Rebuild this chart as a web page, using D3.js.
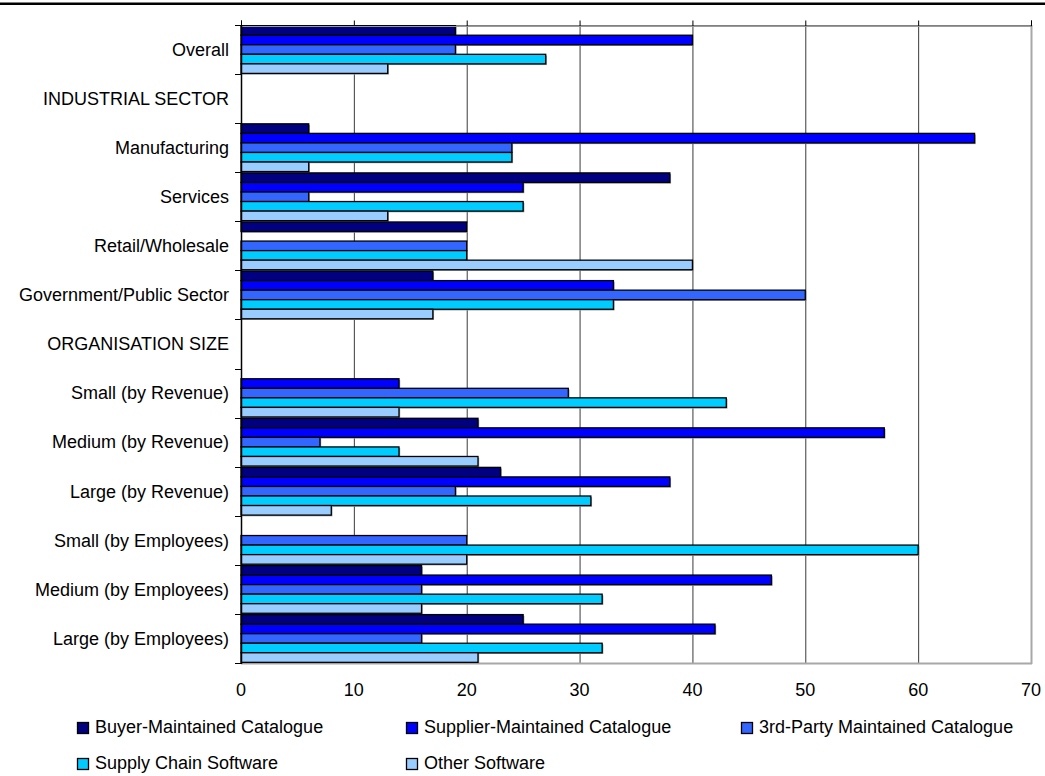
<!DOCTYPE html>
<html>
<head>
<meta charset="utf-8">
<script src="https://cdn.jsdelivr.net/npm/d3@7"></script>
<style>
  html, body { margin: 0; padding: 0; background: #fff; }
  svg { display: block; font-family: "Liberation Sans", Arial, sans-serif; }
</style>
</head>
<body>
<svg id="chart" width="1045" height="776"></svg>
<script>
// Catalogue / software approach by sector and organisation size (%)
const categories = [
  "Overall", "INDUSTRIAL SECTOR", "Manufacturing", "Services", "Retail/Wholesale",
  "Government/Public Sector", "ORGANISATION SIZE", "Small (by Revenue)",
  "Medium (by Revenue)", "Large (by Revenue)", "Small (by Employees)",
  "Medium (by Employees)", "Large (by Employees)"
];
const buyerMaintained    = [19, null,  6, 38, 20, 17, null, null, 21, 23, null, 16, 25];
const supplierMaintained = [40, null, 65, 25, null, 33, null, 14, 57, 38, null, 47, 42];
const thirdPartyCatalog  = [19, null, 24,  6, 20, 50, null, 29,  7, 19, 20, 16, 16];
const supplyChainSoft    = [27, null, 24, 25, 20, 33, null, 43, 14, 31, 60, 32, 32];
const otherSoftware      = [13, null,  6, 13, 40, 17, null, 14, 21,  8, 20, 16, 21];
const seriesNames = [
  "Buyer-Maintained Catalogue", "Supplier-Maintained Catalogue",
  "3rd-Party Maintained Catalogue", "Supply Chain Software", "Other Software"
];
const seriesColors = ["#000080", "#0000ff", "#3366ff", "#00ccff", "#99ccff"];
const xTicks = [0, 10, 20, 30, 40, 50, 60, 70];

const seriesValues = [buyerMaintained, supplierMaintained, thirdPartyCatalog, supplyChainSoft, otherSoftware];

const svg = d3.select("#chart");
const plot = { left: 241, right: 1031, top: 25, bottom: 663 };

// rule across the top of the page
svg.append("rect").attr("x", 0).attr("y", 2.5).attr("width", 1045).attr("height", 2.5).attr("fill", "#000");

const x = d3.scaleLinear().domain([0, 70]).range([plot.left, plot.right]);
const y = d3.scaleBand().domain(categories).range([plot.top, plot.bottom]).padding(0);
const ySub = d3.scaleBand().domain(d3.range(seriesNames.length))
  .range([0, y.bandwidth()]).paddingInner(0).paddingOuter(0.07);

// vertical gridlines
svg.append("g")
  .selectAll("line")
  .data(xTicks.filter(t => t > 0 && t < 70))
  .join("line")
  .attr("x1", d => x(d) + 0.5).attr("x2", d => x(d) + 0.5)
  .attr("y1", plot.top).attr("y2", plot.bottom)
  .attr("stroke", "#3a3a3a").attr("stroke-width", 1);

// plot frame: right and bottom edges in grey
svg.append("line").attr("x1", plot.right + 0.5).attr("x2", plot.right + 0.5)
  .attr("y1", plot.top).attr("y2", plot.bottom + 1)
  .attr("stroke", "#a8a8a8").attr("stroke-width", 2);
svg.append("line").attr("x1", plot.left).attr("x2", plot.right + 1)
  .attr("y1", plot.bottom + 0.5).attr("y2", plot.bottom + 0.5)
  .attr("stroke", "#a8a8a8").attr("stroke-width", 2);

// bars
const rows = [];
categories.forEach((c, i) => {
  seriesValues.forEach((vals, s) => {
    if (vals[i] != null) rows.push({ cat: c, s, v: vals[i] });
  });
});

const barG = svg.append("g");
// soft shadow under each bar
barG.selectAll("rect.shadow")
  .data(rows)
  .join("rect")
  .attr("class", "shadow")
  .attr("x", x(0) + 1.2)
  .attr("y", d => y(d.cat) + ySub(d.s) + 1.2)
  .attr("width", d => x(d.v) - x(0))
  .attr("height", ySub.bandwidth())
  .attr("fill", "#9a9a9a");
barG.selectAll("rect.bar")
  .data(rows)
  .join("rect")
  .attr("class", "bar")
  .attr("x", x(0))
  .attr("y", d => y(d.cat) + ySub(d.s))
  .attr("width", d => x(d.v) - x(0))
  .attr("height", ySub.bandwidth())
  .attr("fill", d => seriesColors[d.s])
  .attr("stroke", "#000")
  .attr("stroke-width", 1.3);

// value axis line along the top with outward ticks
const topAxis = svg.append("g")
  .attr("transform", `translate(0,${plot.top + 0.5})`)
  .call(d3.axisTop(x).tickValues(xTicks).tickSize(5).tickFormat(""));
topAxis.select(".domain").attr("stroke", "#000").attr("stroke-width", 1);
topAxis.selectAll(".tick line").attr("stroke", "#000");
svg.append("line").attr("x1", plot.left).attr("x2", plot.right)
  .attr("y1", plot.top + 1.5).attr("y2", plot.top + 1.5)
  .attr("stroke", "#9a9a9a").attr("stroke-width", 1);

// value labels below the plot
svg.append("g")
  .selectAll("text")
  .data(xTicks)
  .join("text")
  .attr("x", d => x(d))
  .attr("y", 696)
  .attr("text-anchor", "middle")
  .attr("font-size", 18)
  .attr("fill", "#000")
  .text(d => d);

// category axis on the left
const boundaries = categories.map(c => y(c)).concat([plot.bottom]);
svg.append("line").attr("x1", plot.left + 0.5).attr("x2", plot.left + 0.5)
  .attr("y1", plot.top).attr("y2", plot.bottom + 1)
  .attr("stroke", "#000").attr("stroke-width", 1.5);
svg.append("g")
  .selectAll("line")
  .data(boundaries)
  .join("line")
  .attr("x1", plot.left - 6).attr("x2", plot.left)
  .attr("y1", d => Math.round(d) + 0.5).attr("y2", d => Math.round(d) + 0.5)
  .attr("stroke", "#000").attr("stroke-width", 1);
svg.append("g")
  .selectAll("text")
  .data(categories)
  .join("text")
  .attr("x", 229)
  .attr("y", d => y(d) + y.bandwidth() / 2)
  .attr("dy", "0.35em")
  .attr("text-anchor", "end")
  .attr("font-size", 18)
  .attr("fill", "#000")
  .text(d => d);

// legend: three columns, two rows
const legendCols = [77, 406, 741];
const legendRows = [733, 769];
const legend = svg.append("g")
  .selectAll("g")
  .data(seriesNames)
  .join("g")
  .attr("transform", (d, i) => `translate(${legendCols[i % 3]},${legendRows[Math.floor(i / 3)]})`);
legend.append("rect")
  .attr("x", 0.5).attr("y", -10.5)
  .attr("width", 11).attr("height", 11)
  .attr("fill", (d, i) => seriesColors[i])
  .attr("stroke", "#000").attr("stroke-width", 1.3);
legend.append("text")
  .attr("x", 18).attr("y", 0)
  .attr("font-size", 18)
  .attr("fill", "#000")
  .text(d => d);
</script>
</body>
</html>
